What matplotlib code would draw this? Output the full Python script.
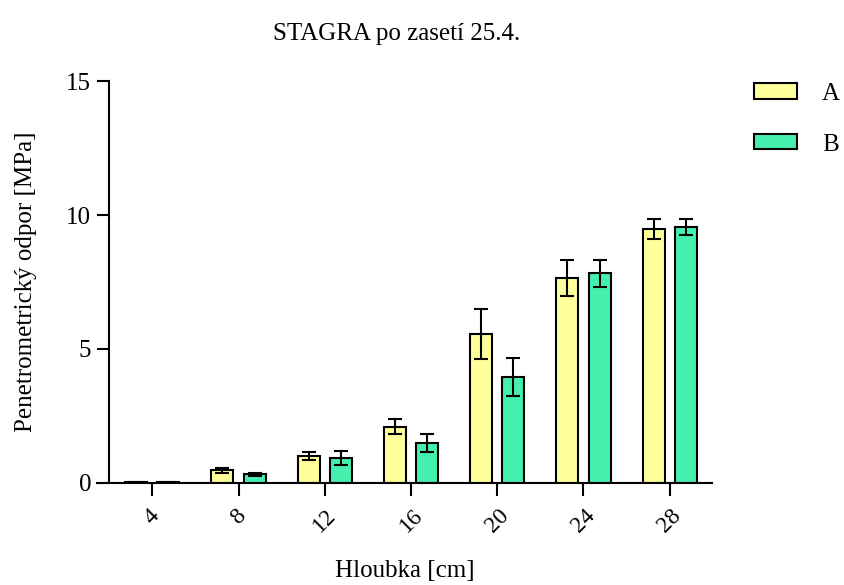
import matplotlib.pyplot as plt
import numpy as np

depths = ['4', '8', '12', '16', '20', '24', '28']
a_mean = [0.02, 0.47, 1.00, 2.10, 5.55, 7.64, 9.48]
a_err = [0.01, 0.10, 0.14, 0.29, 0.94, 0.67, 0.37]
b_mean = [0.02, 0.32, 0.93, 1.50, 3.97, 7.82, 9.55]
b_err = [0.01, 0.06, 0.25, 0.34, 0.71, 0.50, 0.29]

plt.rcParams['font.family'] = ['Liberation Serif', 'DejaVu Serif']

fig = plt.figure(figsize=(8.44, 5.85), dpi=100)
ax = fig.add_axes([0.115, 0.1744, 0.7286, 0.6871])

x = np.arange(len(depths))
w = 0.255
off = 0.1875
ax.bar(x - off, a_mean, w, color='#FFFF9C', edgecolor='black', linewidth=1.5, label='A', zorder=2)
ax.bar(x + off, b_mean, w, color='#45F0AE', edgecolor='black', linewidth=1.5, label='B', zorder=2)
ax.errorbar(x - off, a_mean, yerr=a_err, fmt='none', ecolor='black', elinewidth=1.5, capsize=5, capthick=1.5, zorder=3)
ax.errorbar(x + off, b_mean, yerr=b_err, fmt='none', ecolor='black', elinewidth=1.5, capsize=5, capthick=1.5, zorder=3)

ax.set_xlim(-0.64, 6.49)
ax.set_ylim(0, 15)
ax.spines['top'].set_visible(False)
ax.spines['right'].set_visible(False)
ax.spines['left'].set_position(('data', -0.5))
ax.spines['left'].set_linewidth(1.5)
ax.spines['bottom'].set_linewidth(1.5)
ax.set_yticks([0, 5, 10, 15])
ax.set_xticks(x)
ax.set_xticklabels(depths, rotation=45, ha='center')
ax.tick_params(axis='both', width=1.5, length=9)
ax.tick_params(axis='y', labelsize=18, pad=4)
ax.tick_params(axis='x', labelsize=17, pad=7)

ax.set_xlabel('Hloubka [cm]', fontsize=18, labelpad=17)
ax.set_ylabel('Penetrometrický odpor [MPa]', fontsize=18, labelpad=21)
fig.suptitle('STAGRA po zasetí 25.4.', fontsize=18, x=0.47, y=0.96)

leg = ax.legend(loc='upper left', bbox_to_anchor=(0.867, 0.897), bbox_transform=fig.transFigure,
                frameon=False, fontsize=18, handlelength=1.72, handleheight=0.56,
                labelspacing=1.15, handletextpad=1.0)

fig.savefig('out.png', dpi=100)
